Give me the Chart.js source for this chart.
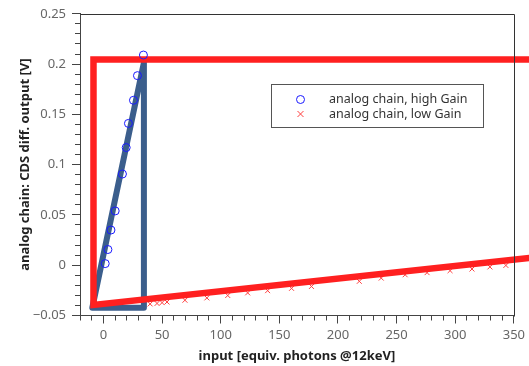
<!DOCTYPE html>
<html>
<head>
<meta charset="utf-8">
<script src="https://cdn.jsdelivr.net/npm/chart.js@4.4.0/dist/chart.umd.min.js"></script>
<style>
  html, body { margin: 0; padding: 0; background: #fff; }
  #wrap { width: 529px; height: 366px; }
</style>
</head>
<body>
<div id="wrap"><canvas id="cds"></canvas></div>
<script>
// high gain measurement (blue circles)
const highGainX = [1.5, 3.8, 6.4, 10, 16.2, 19.4, 21.3, 25.6, 29, 34.1];
const highGainY = [0.0016, 0.0156, 0.035, 0.054, 0.0907, 0.117, 0.141, 0.164, 0.1885, 0.209];
// low gain measurement (red crosses)
const lowGainX = [39.8, 45.7, 50, 54.2, 69.5, 88.2, 106, 123, 140, 160.4, 177.4, 218.2, 236.9, 257.3, 276, 295.6, 314.3, 329.6, 343.2];
const lowGainY = [-0.0385, -0.038, -0.0372, -0.0366, -0.0348, -0.0325, -0.0301, -0.0275, -0.0253, -0.023, -0.0211, -0.016, -0.0128, -0.0095, -0.0074, -0.0054, -0.0038, -0.0017, -0.0002];
// thick outline of the high gain range (blue)
const highRangeX = [-9.5, 34.5, 34.5, -9.5];
const highRangeY = [-0.0422, 0.2015, -0.0422, -0.0422];
// thick outline of the low gain range (red)
const lowRangeX = [370, -8.5, -8.5, 370];
const lowRangeY = [0.2045, 0.2045, -0.0395, 0.008];

const xTicks = { min: -20, max: 350, major: 50, minor: 10 };
const yTicks = { min: -0.05, max: 0.25, major: 0.05, minor: 0.01 };

const FONT = "'Noto Sans', sans-serif";

function toPoints(xs, ys) {
	return xs.map((x, i) => ({ x: x, y: ys[i] }));
}

const frameBox = {
	id: 'frameBox',
	afterDraw(chart) {
		const { ctx, chartArea: a } = chart;
		ctx.save();
		ctx.strokeStyle = '#333';
		ctx.lineWidth = 1;
		ctx.beginPath();
		ctx.moveTo(Math.round(a.left) + 0.5, Math.round(a.top) + 0.5);
		ctx.lineTo(Math.round(a.right) + 0.5, Math.round(a.top) + 0.5);
		ctx.lineTo(Math.round(a.right) + 0.5, Math.round(a.bottom) + 0.5);
		ctx.stroke();
		ctx.restore();
	}
};

const boxLegend = {
	id: 'boxLegend',
	afterDraw(chart) {
		const ctx = chart.ctx;
		const items = chart.data.datasets.filter(d => d.legendEntry);
		const x0 = 271.5, y0 = 84.5, w = 212, h = 43;
		ctx.save();
		ctx.fillStyle = '#fff';
		ctx.fillRect(x0, y0, w, h);
		ctx.strokeStyle = '#555';
		ctx.lineWidth = 1;
		ctx.strokeRect(x0, y0, w, h);
		ctx.font = "12.5px " + FONT;
		ctx.textBaseline = 'middle';
		items.forEach((d, i) => {
			const cy = 99.5 + i * 14.5;
			const cx = 300.5;
			ctx.strokeStyle = d.borderColor;
			ctx.lineWidth = 1;
			ctx.beginPath();
			if (d.pointStyle === 'circle') {
				ctx.arc(cx, cy, 4, 0, Math.PI * 2);
			} else {
				ctx.moveTo(cx - 3, cy - 3); ctx.lineTo(cx + 3, cy + 3);
				ctx.moveTo(cx + 3, cy - 3); ctx.lineTo(cx - 3, cy + 3);
			}
			ctx.stroke();
			ctx.fillStyle = '#333';
			ctx.fillText(d.label, 329, cy);
		});
		ctx.restore();
	}
};

function yLabel(v) {
	const s = String(Number(v.toFixed(2)));
	return s.replace('-', '\u2212');
}

const ctx = document.getElementById('cds').getContext('2d');
const config = {
	type: 'scatter',
	data: {
		datasets: [
			{
				label: 'analog chain, high Gain',
				legendEntry: true,
				data: toPoints(highGainX, highGainY),
				pointStyle: 'circle',
				pointRadius: 4,
				pointBorderWidth: 1,
				borderColor: '#1a1aff',
				backgroundColor: 'rgba(0,0,0,0)',
				order: 0,
			},
			{
				label: 'analog chain, low Gain',
				legendEntry: true,
				data: toPoints(lowGainX, lowGainY),
				pointStyle: 'crossRot',
				pointRadius: 3.5,
				pointBorderWidth: 1,
				borderColor: '#ff4040',
				backgroundColor: '#ff4040',
				order: 2,
			},
			{
				label: 'low range',
				data: toPoints(lowRangeX, lowRangeY),
				showLine: true,
				pointRadius: 0,
				borderColor: '#ff2020',
				borderWidth: 6.5,
				borderJoinStyle: 'miter',
				tension: 0,
				clip: false,
				order: 1,
			},
			{
				label: 'high range',
				data: toPoints(highRangeX, highRangeY),
				showLine: true,
				pointRadius: 0,
				borderColor: '#3b5e8c',
				borderWidth: 6,
				borderJoinStyle: 'round',
				borderCapStyle: 'round',
				tension: 0,
				clip: false,
				order: 3,
			},
		],
	},
	options: {
		responsive: true,
		maintainAspectRatio: false,
		animation: false,
		layout: { padding: { top: 10.5, right: 14, left: 0, bottom: 0 } },
		plugins: {
			legend: { display: false },
			tooltip: { enabled: false },
		},
		scales: {
			x: {
				type: 'linear',
				position: 'bottom',
				weight: 1,
				min: xTicks.min,
				max: xTicks.max,
				afterFit: (s) => { s.height = 50.5; },
				ticks: {
					stepSize: xTicks.major,
					includeBounds: false,
					color: '#666',
					font: { family: FONT, size: 13 },
					padding: 4,
					maxRotation: 0,
				},
				grid: { drawOnChartArea: false, tickLength: 8, tickColor: '#444' },
				border: { color: '#444' },
				title: {
					display: true,
					text: 'input [equiv. photons @12keV]',
					color: '#222',
					font: { family: FONT, size: 13, weight: 'bold' },
					padding: { bottom: 1.5 },
				},
			},
			xMinor: {
				type: 'linear',
				position: 'bottom',
				weight: 0,
				min: xTicks.min,
				max: xTicks.max,
				afterFit: (s) => { s.height = 0; },
				ticks: { stepSize: xTicks.minor, display: false },
				grid: { drawOnChartArea: false, tickLength: 5, tickColor: '#444' },
				border: { color: '#444' },
			},
			y: {
				type: 'linear',
				position: 'left',
				weight: 1,
				min: yTicks.min,
				max: yTicks.max,
				afterFit: (s) => { s.width = 80; },
				ticks: {
					stepSize: yTicks.major,
					color: '#666',
					font: { family: FONT, size: 13 },
					padding: 6,
					callback: (v) => yLabel(v),
				},
				grid: { drawOnChartArea: false, tickLength: 8, tickColor: '#444' },
				border: { color: '#444' },
				title: {
					display: true,
					text: 'analog chain: CDS diff. output [V]',
					color: '#222',
					font: { family: FONT, size: 13, weight: 'bold' },
					padding: { top: 17 },
				},
			},
			yMinor: {
				type: 'linear',
				position: 'left',
				weight: 0,
				min: yTicks.min,
				max: yTicks.max,
				afterFit: (s) => { s.width = 0; },
				ticks: { stepSize: yTicks.minor, display: false },
				grid: { drawOnChartArea: false, tickLength: 5, tickColor: '#444' },
				border: { color: '#444' },
			},
		},
	},
	plugins: [frameBox, boxLegend],
};
new Chart(ctx, config);
</script>
</body>
</html>
